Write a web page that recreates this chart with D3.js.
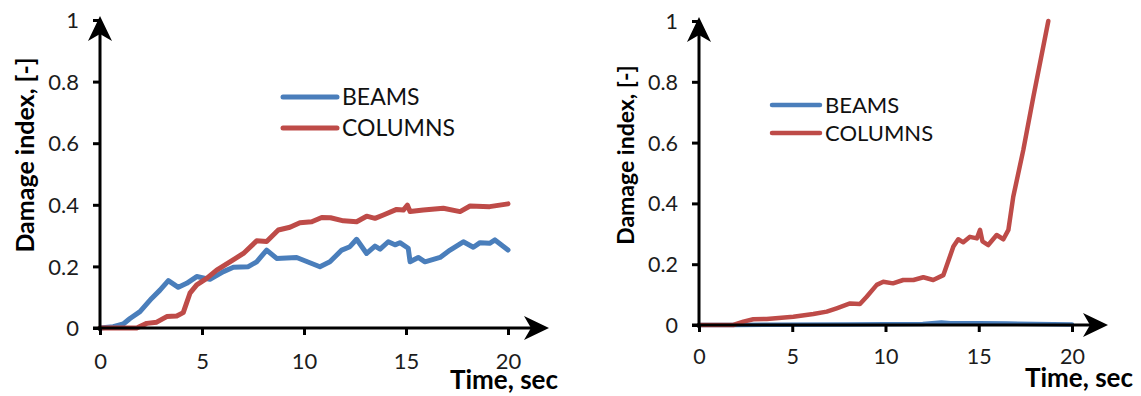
<!DOCTYPE html>
<html><head><meta charset="utf-8">
<script src="https://cdn.jsdelivr.net/npm/d3@7"></script>
<style>body{margin:0;background:#fff}text{font-family:Lato,'Open Sans',sans-serif}</style>
</head><body><svg id="c" width="1141" height="396"></svg>
<script>
const xTicks = [0, 5, 10, 15, 20];
const yTicks = [0, 0.2, 0.4, 0.6, 0.8, 1];
const yTickLabels = ["0", "0.2", "0.4", "0.6", "0.8", "1"];
const seriesNames = ["BEAMS", "COLUMNS"];
const xTitle = "Time, sec";
const yTitle = "Damage index, [-]";

const leftBeams = [[0,0],[0.65,0.004],[1.14,0.013],[1.47,0.031],[1.96,0.053],[2.53,0.096],[2.94,0.123],[3.35,0.154],[3.84,0.132],[4.25,0.145],[4.74,0.167],[5.39,0.158],[6.05,0.183],[6.54,0.197],[7.27,0.199],[7.68,0.215],[8.17,0.253],[8.66,0.226],[9.64,0.229],[10.78,0.199],[11.27,0.215],[11.85,0.253],[12.25,0.264],[12.58,0.288],[13.07,0.242],[13.48,0.266],[13.73,0.256],[14.13,0.28],[14.46,0.27],[14.7,0.277],[15.11,0.259],[15.2,0.215],[15.6,0.229],[15.93,0.215],[16.67,0.229],[17.16,0.253],[17.81,0.28],[18.3,0.262],[18.63,0.277],[19.1,0.275],[19.36,0.286],[20,0.253]];
const leftColumns = [[0,0],[1.8,0],[2.29,0.015],[2.78,0.019],[3.27,0.037],[3.76,0.039],[4.08,0.05],[4.41,0.113],[4.74,0.14],[5.23,0.161],[5.72,0.188],[6.37,0.215],[7.03,0.242],[7.68,0.283],[8.17,0.281],[8.74,0.318],[9.31,0.327],[9.8,0.342],[10.38,0.345],[10.87,0.359],[11.3,0.358],[11.93,0.348],[12.58,0.345],[13.07,0.363],[13.48,0.356],[13.89,0.367],[14.54,0.385],[14.87,0.383],[15.07,0.399],[15.2,0.378],[15.85,0.383],[16.83,0.389],[17.65,0.378],[18.14,0.396],[19.1,0.394],[20,0.403]];
const rightBeams = [[0,0],[2,0],[4,0.001],[8,0.002],[12,0.003],[13,0.008],[13.5,0.006],[15,0.006],[16.5,0.005],[18,0.003],[20,0.002]];
const rightColumns = [[0,0],[1.84,0],[2.38,0.011],[2.91,0.019],[3.63,0.02],[5.06,0.027],[6.13,0.036],[6.85,0.044],[7.38,0.055],[8.1,0.071],[8.63,0.069],[8.99,0.093],[9.53,0.132],[9.88,0.142],[10.4,0.137],[10.95,0.148],[11.5,0.148],[12.03,0.157],[12.56,0.148],[13.1,0.164],[13.64,0.258],[13.9,0.282],[14.17,0.272],[14.53,0.29],[14.9,0.285],[15.07,0.313],[15.2,0.275],[15.51,0.263],[15.96,0.296],[16.32,0.282],[16.59,0.313],[16.85,0.422],[17.39,0.576],[17.93,0.751],[18.73,1.0]];

const colors = ["#4a7ebb", "#be4b48"];
const svg = d3.select("#c");

const panels = [
  {x0:100, x1:508, y0:328, y1:20, xTip:549, yTip:16, series:[leftBeams,leftColumns],
   titleX:34, titleY:155, titleSize:25, tickSize:22, tickLabelY:369, xTitleX:450, xTitleY:389,
   legX:283, legLen:54, legY:[97,128], legSize:23, lw:5},
  {x0:699, x1:1072, y0:325, y1:21, xTip:1108, yTip:17, series:[rightBeams,rightColumns],
   titleX:634, titleY:155, titleSize:23, tickSize:21.5, tickLabelY:364, xTitleX:1025, xTitleY:387,
   legX:772, legLen:48, legY:[105,133], legSize:22, lw:4.5}
];

panels.forEach(p => {
  const x = d3.scaleLinear().domain([0,20]).range([p.x0, p.x1]);
  const y = d3.scaleLinear().domain([0,1]).range([p.y0, p.y1]);
  const g = svg.append("g");

  const line = d3.line().x(d => x(d[0])).y(d => y(d[1]));
  p.series.forEach((s, i) => {
    g.append("path").attr("d", line(s)).attr("fill","none")
      .attr("stroke", colors[i]).attr("stroke-width", p.lw)
      .attr("stroke-linejoin","round").attr("stroke-linecap","round");
  });

  const yAx = d3.axisLeft(y).tickValues(yTicks).tickFormat((d,i) => yTickLabels[i]).tickSize(7).tickPadding(14);
  const ya = g.append("g").attr("transform", `translate(${p.x0},0)`).call(yAx);
  ya.select(".domain").remove();
  ya.selectAll("line").attr("stroke","#000").attr("stroke-width",3);
  ya.selectAll("text").attr("font-size",p.tickSize).attr("fill","#1c1c1c").attr("dy","0.35em");

  const xAx = d3.axisBottom(x).tickValues(xTicks).tickSize(7).tickFormat(d3.format("d"));
  const xa = g.append("g").attr("transform", `translate(0,${p.y0})`).call(xAx);
  xa.select(".domain").remove();
  xa.selectAll("line").attr("stroke","#000").attr("stroke-width",3);
  xa.selectAll("text").attr("font-size",p.tickSize).attr("fill","#1c1c1c")
    .attr("y", p.tickLabelY - p.y0).attr("dy", 0);

  g.append("line").attr("x1", p.x0).attr("x2", p.x0).attr("y1", p.y0 + 3).attr("y2", p.yTip + 12)
    .attr("stroke","#000").attr("stroke-width",3);
  g.append("line").attr("x1", p.x0 - 7).attr("x2", p.xTip - 12).attr("y1", p.y0).attr("y2", p.y0)
    .attr("stroke","#000").attr("stroke-width",3);
  g.append("path").attr("d", `M${p.x0},${p.yTip} L${p.x0-12},${p.yTip+25} L${p.x0},${p.yTip+18} L${p.x0+12},${p.yTip+25} Z`).attr("fill","#000");
  g.append("path").attr("d", `M${p.xTip},${p.y0} L${p.xTip-25},${p.y0-12} L${p.xTip-18},${p.y0} L${p.xTip-25},${p.y0+12} Z`).attr("fill","#000");

  g.append("text").attr("transform", `translate(${p.titleX},${p.titleY}) rotate(-90)`)
    .attr("text-anchor","middle").attr("font-weight","bold").attr("font-size", p.titleSize)
    .attr("fill","#000").text(yTitle);
  g.append("text").attr("x", p.xTitleX).attr("y", p.xTitleY).attr("font-weight","bold")
    .attr("font-size", 26).attr("fill","#000").text(xTitle);

  seriesNames.forEach((n, i) => {
    g.append("line").attr("x1", p.legX).attr("x2", p.legX + p.legLen)
      .attr("y1", p.legY[i]).attr("y2", p.legY[i])
      .attr("stroke", colors[i]).attr("stroke-width", p.lw).attr("stroke-linecap","round");
    g.append("text").attr("x", p.legX + p.legLen + 5).attr("y", p.legY[i]).attr("dy","0.35em")
      .attr("font-size", p.legSize).attr("fill","#111").text(n);
  });
});
</script></body></html>
